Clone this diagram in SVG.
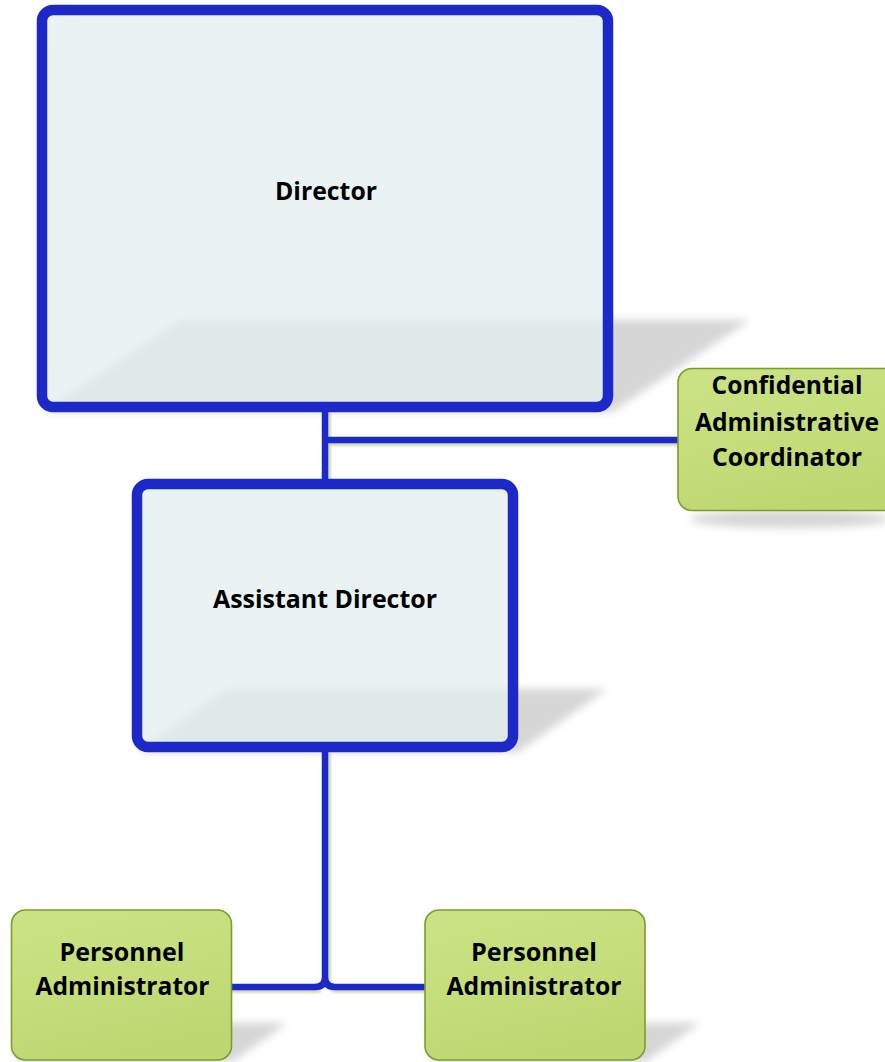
<svg xmlns="http://www.w3.org/2000/svg" width="885" height="1062" viewBox="0 0 885 1062">
  <defs>
    <style>
      .box { fill: #e2eff0; fill-opacity: 0.76; stroke: #1c29c8; stroke-width: 10.5; }
      .leaf { fill: url(#leafFill); stroke: #7b9d2c; stroke-width: 1.6; }
      .shade { fill: #d6d6d6; filter: url(#soft); }
      .label { font-family: "Open Sans", "Liberation Sans", sans-serif; font-weight: 700; font-size: 25px; fill: #000; text-anchor: middle; }
      .wire { fill: none; stroke: #1c29c8; stroke-width: 6.5; stroke-linecap: round; stroke-linejoin: round; }
      .wire-shade { fill: none; stroke: #a9b97a; stroke-opacity: 0.55; stroke-width: 6; stroke-linecap: round; filter: url(#softer); }
    </style>
    <linearGradient id="leafFill" x1="0" y1="0" x2="0.35" y2="1">
      <stop offset="0" stop-color="#cbe385"/>
      <stop offset="0.55" stop-color="#c5de7b"/>
      <stop offset="1" stop-color="#bed771"/>
    </linearGradient>
    <filter id="soft" x="-20%" y="-40%" width="140%" height="180%">
      <feGaussianBlur stdDeviation="4"/>
    </filter>
    <filter id="softer" x="-10%" y="-10%" width="120%" height="120%">
      <feGaussianBlur stdDeviation="1"/>
    </filter>
  </defs>

  <!-- perspective shadows cast behind the boxes -->
  <g id="shadows">
    <polygon class="shade" points="42,412 612,412 750,320 180,320"/>
    <polygon class="shade" points="137,752 518,752 607,689 226,689"/>
    <ellipse class="shade" cx="790" cy="519" rx="100" ry="9"/>
    <polygon class="shade" points="12,1062 232,1062 287,1023 67,1023"/>
    <polygon class="shade" points="425,1062 645,1062 700,1023 480,1023"/>
  </g>

  <!-- connectors -->
  <g id="connectors">
    <path class="wire-shade" d="M328,415 V486 M328,443 H681"/>
    <path class="wire-shade" d="M328,755 V978 Q328,990 338,990 H428 M233,990 H318"/>
    <path class="wire" d="M325,412 V484 M325,440 H679"/>
    <path class="wire" d="M325,752 V977 Q325,987 315,987 H231 M325,977 Q325,987 335,987 H426"/>
  </g>

  <g id="director">
    <rect class="box" x="42" y="10" width="566" height="397" rx="11"/>
    <text class="label" x="326" y="199.5" textLength="102" lengthAdjust="spacingAndGlyphs">Director</text>
  </g>

  <g id="assistant-director">
    <rect class="box" x="137" y="484" width="376" height="263" rx="11"/>
    <text class="label" x="325" y="607.5" textLength="224" lengthAdjust="spacingAndGlyphs">Assistant Director</text>
  </g>

  <g id="coordinator">
    <rect class="leaf" x="678" y="368.5" width="222" height="142" rx="14"/>
    <text class="label" x="787" y="394" textLength="151" lengthAdjust="spacingAndGlyphs">Confidential</text>
    <text class="label" x="787" y="431" textLength="184" lengthAdjust="spacingAndGlyphs">Administrative</text>
    <text class="label" x="787" y="466" textLength="150" lengthAdjust="spacingAndGlyphs">Coordinator</text>
  </g>

  <g id="personnel-left">
    <rect class="leaf" x="11.5" y="910" width="220" height="150" rx="14"/>
    <text class="label" x="122" y="961" textLength="125" lengthAdjust="spacingAndGlyphs">Personnel</text>
    <text class="label" x="122.5" y="995" textLength="174" lengthAdjust="spacingAndGlyphs">Administrator</text>
  </g>

  <g id="personnel-right">
    <rect class="leaf" x="425" y="910" width="220" height="150" rx="14"/>
    <text class="label" x="534" y="961" textLength="126" lengthAdjust="spacingAndGlyphs">Personnel</text>
    <text class="label" x="534" y="995" textLength="175" lengthAdjust="spacingAndGlyphs">Administrator</text>
  </g>
</svg>
